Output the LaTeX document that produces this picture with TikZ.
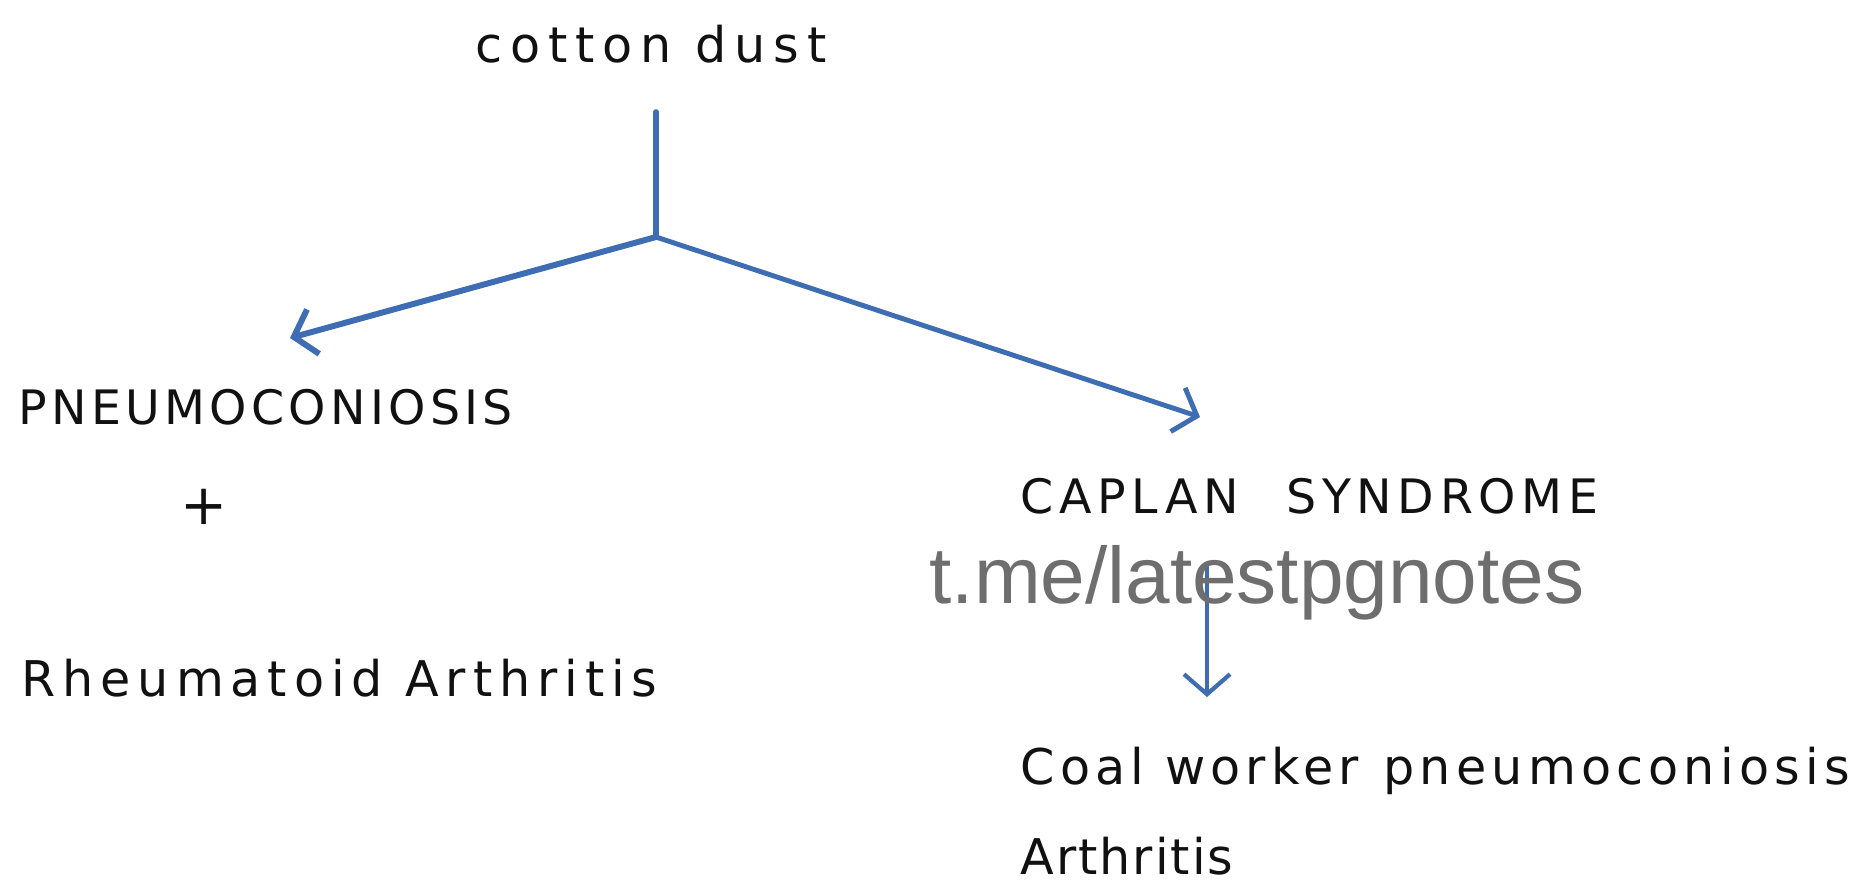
\documentclass[tikz,border=0pt]{standalone}
\usepackage{fontspec}
\usepackage{tikz}
\usetikzlibrary{arrows.meta}
\setmainfont{DejaVu Sans}
\newfontfamily\markfont{Liberation Sans}
\definecolor{csArrow}{HTML}{3E6DB3}
\definecolor{csInk}{HTML}{111111}
\definecolor{csMark}{HTML}{6E6E6E}
\tikzset{
  cs diagram/.style={text=csInk, line cap=round, line join=round},
  cs hand/.style={anchor=west, inner sep=0pt,
    font=\fontsize{14}{16}\selectfont\addfontfeature{LetterSpace=#1}},
  cs hand/.default=12,
  cs caps/.style={anchor=west, inner sep=0pt,
    font=\fontsize{13.5}{16}\selectfont\addfontfeature{LetterSpace=#1}},
  cs caps/.default=9,
  cs plus/.style={inner sep=0pt, font=\fontsize{16}{18}\selectfont},
  cs stem/.style={draw=csArrow, line width=1.6pt},
  cs arrow/.style={-{Straight Barb[length=2mm,width=4.6mm]}, draw=csArrow,
    line width=1.4pt},
  cs mark/.style={inner sep=0pt, text=csMark,
    font=\markfont\fontsize{22.8}{26}\selectfont}
}
\begin{document}
\begin{tikzpicture}[cs diagram]
\useasboundingbox (0,0) rectangle (18.59,-8.91);
% top of the tree
\node[cs hand=16] (dust) at (4.75,-0.44) {cotton dust};
\coordinate (stemTop) at (6.56,-1.12);
\coordinate (split) at (6.56,-2.37);
\coordinate (leftTip) at (2.90,-3.38);
\coordinate (rightTip) at (12.00,-4.17);
% left branch
\node[cs caps] (pneumo) at (0.18,-4.07) {PNEUMOCONIOSIS};
\node[cs plus] (plus) at (2.04,-5.07) {+};
\node[cs hand=14] (ra) at (0.21,-6.78) {Rheumatoid Arthritis};
% right branch
\node[cs caps=12] (caplan) at (10.20,-4.96) {CAPLAN\quad SYNDROME};
\coordinate (capOut) at (12.07,-5.67);
\coordinate (coalIn) at (12.07,-6.97);
\node[cs hand=10.5] (coal) at (10.20,-7.71) {Coal worker\enspace pneumoconiosis};
\node[cs hand=4] (arth) at (10.20,-8.56) {Arthritis};
\draw[cs stem] (stemTop) -- (split);
\draw[cs arrow, line width=1.7pt] (split) -- (leftTip);
\draw[cs arrow] (split) -- (rightTip);
\draw[cs arrow, line width=1.2pt] (capOut) -- (coalIn);
\node[cs mark] (mark) at (12.57,-5.83) {t.me/latestpgnotes};
\end{tikzpicture}
\end{document}
